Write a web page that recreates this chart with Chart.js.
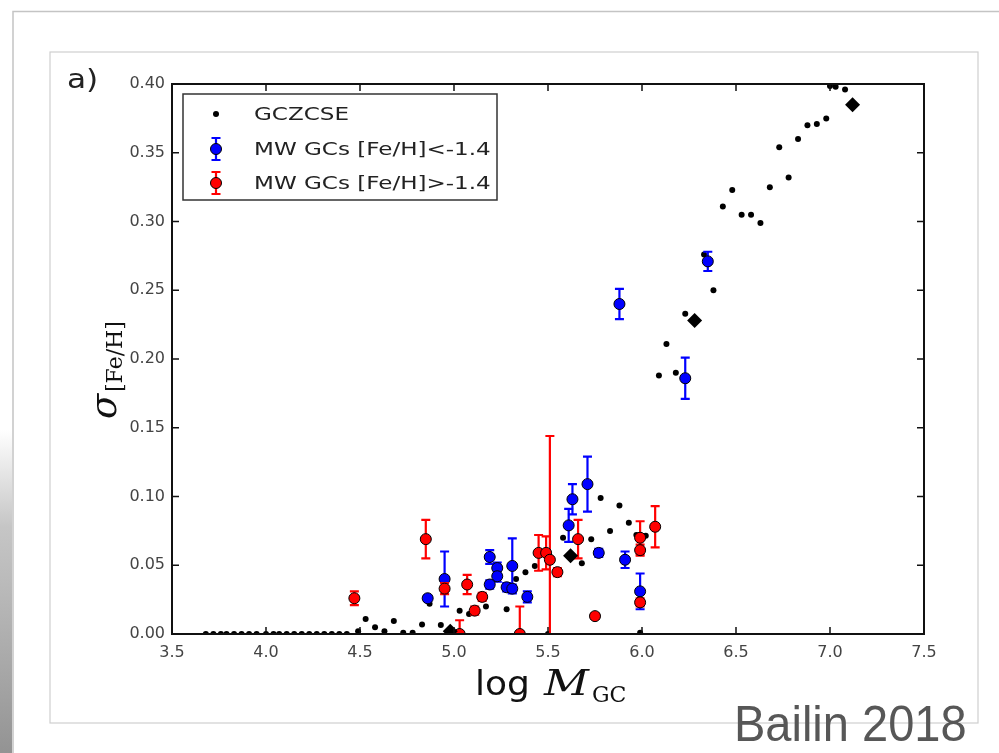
<!DOCTYPE html>
<html><head><meta charset="utf-8">
<script src="https://cdn.jsdelivr.net/npm/chart.js@4.4.1/dist/chart.umd.min.js"></script>
<style>html,body{margin:0;padding:0;background:#fff;overflow:hidden}#wrap{position:relative;width:999px;height:753px}</style>
</head><body><div id="wrap"><canvas id="c"></canvas></div>
<script>
const xTickValues = [3.5, 4.0, 4.5, 5.0, 5.5, 6.0, 6.5, 7.0, 7.5];
const yTickValues = [0, 0.05, 0.10, 0.15, 0.20, 0.25, 0.30, 0.35, 0.40];

const gczcseX = [3.68,3.72,3.76,3.79,3.83,3.87,3.91,3.95,4.00,4.04,4.07,4.11,4.15,4.19,4.23,4.27,4.31,4.35,4.39,4.43,
  4.49,4.53,4.58,4.63,4.68,4.73,4.78,4.83,4.87,4.93,5.03,5.08,5.17,5.28,5.33,5.38,5.43,5.50,5.58,5.68,
  5.73,5.78,5.83,5.88,5.93,5.97,6.02,5.99,6.09,6.13,6.18,6.23,6.33,6.38,6.43,6.48,6.53,6.58,6.63,6.68,
  6.73,6.78,6.83,6.88,6.93,6.98,7.00,7.03,7.08];
const gczcseY = [0,0,0,0,0,0,0,0,0,0,0,0,0,0,0,0,0,0,0,0,
  0.002,0.011,0.005,0.002,0.0095,0.001,0.001,0.007,0.022,0.0066,0.017,0.0146,0.020,0.018,0.040,0.045,0.0495,0.0,0.070,0.0515,
  0.069,0.099,0.075,0.0935,0.081,0.072,0.0714,0.001,0.188,0.211,0.190,0.233,0.276,0.250,0.311,0.323,0.305,0.305,0.299,0.325,
  0.354,0.332,0.360,0.370,0.371,0.375,0.3985,0.398,0.396];

const specialX = [4.98, 5.62, 6.28, 7.12];
const specialY = [0.002, 0.057, 0.228, 0.385];

const poorX = [4.86,4.95,5.19,5.19,5.23,5.23,5.28,5.31,5.31,5.39,5.61,5.63,5.71,5.77,5.88,5.91,5.99,6.23,6.35];
const poorY = [0.026,0.040,0.056,0.036,0.048,0.042,0.034,0.0495,0.033,0.027,0.079,0.098,0.109,0.059,0.240,0.054,0.031,0.186,0.271];
const poorErr = [0.002,0.020,0.005,0.003,0.004,0.004,0.003,0.020,0.003,0.004,0.012,0.011,0.020,0.003,0.011,0.006,0.013,0.015,0.007];

const richX = [4.47,4.85,4.95,5.03,5.07,5.11,5.15,5.35,5.45,5.49,5.51,5.55,5.66,5.75,5.99,5.99,5.99,6.07];
const richY = [0.026,0.069,0.033,0.000,0.036,0.017,0.027,0.000,0.059,0.059,0.054,0.045,0.069,0.013,0.070,0.061,0.023,0.078];
const richErr = [0.005,0.014,0.004,0.010,0.007,0.003,0.003,0.020,0.013,0.012,0.090,0.003,0.014,0.002,0.012,0.004,0.003,0.015];

const seriesLabels = ['GCZCSE', 'MW GCs [Fe/H]<-1.4', 'MW GCs [Fe/H]>-1.4'];

const pts = (xs, ys) => xs.map((x, i) => ({x: x, y: ys[i]}));

function drawStretched(ctx, text, x, y, sx) {
  ctx.save(); ctx.translate(x, y); ctx.scale(sx, 1); ctx.fillText(text, 0, 0); ctx.restore();
}

const errorBarPlugin = {
  id: 'errorBars',
  beforeDatasetDraw(chart, args) {
    const ds = chart.data.datasets[args.index];
    if (!ds.errors) return;
    const ctx = chart.ctx, xs = chart.scales.x, ys = chart.scales.y, a = chart.chartArea;
    ctx.save();
    ctx.beginPath(); ctx.rect(a.left, a.top, a.right - a.left, a.bottom - a.top); ctx.clip();
    ctx.strokeStyle = ds.errColor; ctx.lineWidth = 2.2;
    ds.data.forEach((p, i) => {
      const e = ds.errors[i];
      const x = xs.getPixelForValue(p.x);
      const y1 = ys.getPixelForValue(p.y + e), y2 = ys.getPixelForValue(p.y - e);
      ctx.beginPath();
      ctx.moveTo(x, y1); ctx.lineTo(x, y2);
      ctx.moveTo(x - 4.5, y1); ctx.lineTo(x + 4.5, y1);
      ctx.moveTo(x - 4.5, y2); ctx.lineTo(x + 4.5, y2);
      ctx.stroke();
    });
    ctx.restore();
  }
};

const decorPlugin = {
  id: 'decor',
  beforeDraw(chart) {
    const ctx = chart.ctx;
    ctx.save();
    ctx.fillStyle = '#fff'; ctx.fillRect(0, 0, chart.width, chart.height);
    const g = ctx.createLinearGradient(0, 430, 0, 753);
    g.addColorStop(0, 'rgba(150,150,150,0)'); g.addColorStop(0.3, 'rgba(150,150,150,0.55)'); g.addColorStop(1, 'rgba(120,120,120,0.8)');
    ctx.fillStyle = g; ctx.fillRect(0, 430, 12, 323);
    ctx.strokeStyle = '#c4c4c4'; ctx.lineWidth = 1.5;
    ctx.beginPath(); ctx.moveTo(13, 753); ctx.lineTo(13, 11.5); ctx.lineTo(999, 11.5); ctx.stroke();
    ctx.strokeStyle = '#cfcfcf'; ctx.lineWidth = 1.2;
    ctx.strokeRect(50, 52, 928, 671);
    ctx.restore();
  },
  afterDatasetsDraw(chart) {
    const ctx = chart.ctx, a = chart.chartArea, xs = chart.scales.x, ys = chart.scales.y;
    ctx.save();
    ctx.strokeStyle = '#111'; ctx.lineWidth = 2;
    ctx.strokeRect(a.left, a.top, a.right - a.left, a.bottom - a.top);
    ctx.lineWidth = 1.5; ctx.beginPath();
    xTickValues.forEach(v => {
      const x = xs.getPixelForValue(v);
      ctx.moveTo(x, a.bottom); ctx.lineTo(x, a.bottom - 7);
      ctx.moveTo(x, a.top); ctx.lineTo(x, a.top + 7);
    });
    yTickValues.forEach(v => {
      const y = ys.getPixelForValue(v);
      ctx.moveTo(a.left, y); ctx.lineTo(a.left + 7, y);
      ctx.moveTo(a.right, y); ctx.lineTo(a.right - 7, y);
    });
    ctx.stroke();
    // legend
    const lx = 183, ly = 94, lw = 314, lh = 106;
    ctx.fillStyle = '#fff'; ctx.fillRect(lx, ly, lw, lh);
    ctx.strokeStyle = '#333'; ctx.lineWidth = 1.5; ctx.strokeRect(lx, ly, lw, lh);
    const rows = [114, 149, 183];
    const dss = chart.data.datasets;
    ctx.font = '18px "DejaVu Sans"'; ctx.textBaseline = 'middle';
    [0, 1, 2].forEach((k, r) => {
      const ds = dss[k], cy = rows[r], cx = 216;
      if (ds.errors) {
        ctx.strokeStyle = ds.errColor; ctx.lineWidth = 2.2; ctx.beginPath();
        ctx.moveTo(cx, cy - 11); ctx.lineTo(cx, cy + 11);
        ctx.moveTo(cx - 4.5, cy - 11); ctx.lineTo(cx + 4.5, cy - 11);
        ctx.moveTo(cx - 4.5, cy + 11); ctx.lineTo(cx + 4.5, cy + 11);
        ctx.stroke();
        ctx.beginPath(); ctx.arc(cx, cy, 5.5, 0, Math.PI * 2);
        ctx.fillStyle = ds.backgroundColor; ctx.fill();
        ctx.strokeStyle = '#000'; ctx.lineWidth = 1; ctx.stroke();
      } else {
        ctx.beginPath(); ctx.arc(cx, cy, 3, 0, Math.PI * 2);
        ctx.fillStyle = '#000'; ctx.fill();
      }
      ctx.fillStyle = '#222';
      drawStretched(ctx, ds.label, 254, cy + 1, 1.28);
    });
    ctx.restore();
  },
  afterDraw(chart) {
    const ctx = chart.ctx;
    ctx.save();
    ctx.textBaseline = 'alphabetic';
    ctx.fillStyle = '#222'; ctx.font = '26px "DejaVu Sans"';
    drawStretched(ctx, 'a)', 67, 88, 1.2);
    // x title
    ctx.fillStyle = '#111';
    ctx.font = '34px "DejaVu Sans"';
    drawStretched(ctx, 'log', 475, 695, 1.06);
    ctx.font = 'italic 36px "DejaVu Serif"';
    drawStretched(ctx, 'M', 544, 695, 1.22);
    ctx.font = '22px "DejaVu Serif"';
    ctx.fillText('GC', 592, 702);
    // y title
    ctx.translate(116, 419); ctx.rotate(-Math.PI / 2);
    ctx.font = 'italic 37px "DejaVu Serif"';
    ctx.fillText('\u03C3', 0, 0);
    ctx.font = '22px "DejaVu Serif"';
    ctx.fillText('[Fe/H]', 27, 6);
    ctx.restore();
    ctx.save();
    ctx.fillStyle = '#575757'; ctx.font = '50px "Liberation Sans"'; ctx.textBaseline = 'alphabetic';
    drawStretched(ctx, 'Bailin 2018', 734, 741, 0.94);
    ctx.restore();
  }
};

new Chart(document.getElementById('c'), {
  type: 'scatter',
  data: {
    datasets: [
      { label: seriesLabels[0], data: pts(gczcseX, gczcseY), backgroundColor: '#000', borderWidth: 0,
        pointRadius: 3, order: 3, clip: 0 },
      { label: seriesLabels[1], data: pts(poorX, poorY), errors: poorErr, errColor: '#0000ff',
        backgroundColor: '#0000ff', borderColor: '#000', borderWidth: 1, pointRadius: 5.5, order: 2, clip: 0 },
      { label: seriesLabels[2], data: pts(richX, richY), errors: richErr, errColor: '#ff0000',
        backgroundColor: '#ff0000', borderColor: '#000', borderWidth: 1, pointRadius: 5.5, order: 1, clip: 0 },
      { label: '', data: pts(specialX, specialY), pointStyle: 'rectRot', backgroundColor: '#000',
        borderWidth: 0, pointRadius: 7.5, order: 0, clip: 0 }
    ]
  },
  options: {
    responsive: true, maintainAspectRatio: false, animation: false, events: [],
    layout: { padding: { left: 0, right: 75, top: 84, bottom: 79 } },
    plugins: { legend: { display: false }, tooltip: { enabled: false } },
    scales: {
      x: {
        type: 'linear', min: 3.5, max: 7.5,
        afterBuildTicks: s => { s.ticks = xTickValues.map(v => ({value: v})); },
        afterFit: s => { s.height = 40; },
        grid: { display: false, drawTicks: false }, border: { display: false },
        ticks: { padding: 9, color: '#444', font: { family: 'DejaVu Sans', size: 16 }, maxRotation: 0,
          callback: v => Number(v).toFixed(1) }
      },
      y: {
        type: 'linear', min: 0, max: 0.4,
        afterBuildTicks: s => { s.ticks = yTickValues.map(v => ({value: v})); },
        afterFit: s => { s.width = 172; },
        grid: { display: false, drawTicks: false }, border: { display: false },
        ticks: { padding: 7, color: '#444', font: { family: 'DejaVu Sans', size: 16 },
          callback: v => Number(v).toFixed(2) }
      }
    }
  },
  plugins: [errorBarPlugin, decorPlugin]
});
</script></body></html>
